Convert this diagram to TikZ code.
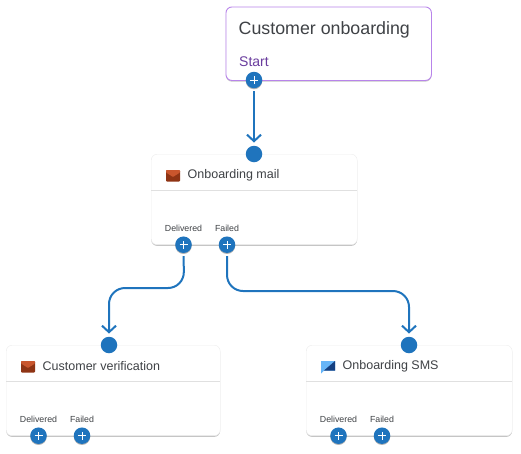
\documentclass[tikz,border=0pt]{standalone}
\usepackage{fontspec}
\setmainfont{Liberation Sans}
\usetikzlibrary{positioning,shadows,arrows.meta}

\definecolor{portblue}{HTML}{1F74BD}
\definecolor{startpurple}{HTML}{6A3D9E}
\definecolor{edgepurple}{HTML}{B884EA}
\definecolor{inkgray}{HTML}{3F4246}
\definecolor{maillight}{HTML}{C9562D}
\definecolor{maildark}{HTML}{8F3414}
\definecolor{smslight}{HTML}{66B5F8}
\definecolor{smsdark}{HTML}{143F80}

\tikzset{
  card/.style={draw=black!7,fill=white,rounded corners=6pt,anchor=north west,inner sep=0pt,
    drop shadow={shadow xshift=0pt,shadow yshift=-1.2pt,opacity=.38,fill=black!60}},
  title/.style={anchor=west,inner sep=0pt,text=inkgray,font=\fontsize{12.5}{15}\selectfont},
  outlabel/.style={inner sep=0pt,text=inkgray,font=\fontsize{8.8}{10}\selectfont},
  target/.style={circle,fill=portblue,minimum size=16.5pt,inner sep=0pt},
  port/.style={circle,fill=portblue,minimum size=16.5pt,inner sep=0pt,
    drop shadow={shadow xshift=0pt,shadow yshift=-1pt,opacity=.3,fill=black},
    path picture={
      \draw[white,line width=.9pt] (path picture bounding box.center) ++(-4pt,0pt) -- ++(8pt,0pt);
      \draw[white,line width=.9pt] (path picture bounding box.center) ++(0pt,-4pt) -- ++(0pt,8pt);}},
  wire/.style={draw=portblue,line width=2pt,-{Straight Barb[length=6.5pt,width=14pt]},
    shorten <=3pt,shorten >=3pt},
  mailicon/.pic={
    \fill[rounded corners=1pt,fill=maildark] (0,0) rectangle (14,11.5);
    \fill[fill=maillight,rounded corners=.8pt] (0,0) -- (14,0) -- (14,2.5) -- (7,7) -- (0,2.5) -- cycle;},
  smsicon/.pic={
    \fill[fill=smslight] (0,0) rectangle (14,9.5) (0,9.5) -- (3,9.5) -- (0,12.5) -- cycle;
    \fill[fill=smsdark] (14,0) -- (14,9.5) -- (3,9.5) -- cycle;}
}

\begin{document}
\begin{tikzpicture}[x=1pt,y=-1pt]
  \useasboundingbox (0,0) rectangle (521,453);

  % start card
  \node[card,draw=edgepurple,line width=.9pt,minimum width=205.5pt,minimum height=73.5pt] (start) at (225.5,6.5) {};
  \node[anchor=west,inner sep=0pt,text=inkgray,font=\fontsize{17.8}{21}\selectfont] (starttitle) at (238.5,30) {Customer onboarding};
  \node[anchor=west,inner sep=0pt,text=startpurple,font=\fontsize{14}{16}\selectfont] (startlabel) at (239,61.5) {Start};
  \node[port] (start-out) at (254,80) {};

  % the three action cards
  \foreach \name/\x/\y/\w/\icon/\txt in {
      mail/151/154/206/mailicon/Onboarding mail,
      verify/6/345/214/mailicon/Customer verification,
      sms/306/345/206/smsicon/Onboarding SMS}
  {
    \node[card,minimum width=\w pt,minimum height=90.5pt] (\name) at (\x,\y) {};
    \draw[black!12,line width=.8pt] (\x,\y+36.3) -- (\x+\w,\y+36.3);
    \pic at (\x+15,\y+16) {\icon};
    \node[title] (\name-title) at (\x+36.5,\y+21) {\txt};
    \node[outlabel] (\name-dl) at (\x+32.5,\y+74.3) {Delivered};
    \node[outlabel] (\name-fl) at (\x+76,\y+74.3) {Failed};
    \node[port] (\name-del) at (\x+32.5,\y+90.7) {};
    \node[port] (\name-fail) at (\x+76,\y+90.7) {};
    \node[target] (\name-in) at (\x+103,\y) {};
  }

  \path[wire] (start-out) edge (mail-in);
  \draw[wire,rounded corners=16pt] (mail-del) -- (184,288) -| (verify-in);
  \draw[wire,rounded corners=16pt] (mail-fail) -- (227,291) -| (sms-in);
\end{tikzpicture}
\end{document}
